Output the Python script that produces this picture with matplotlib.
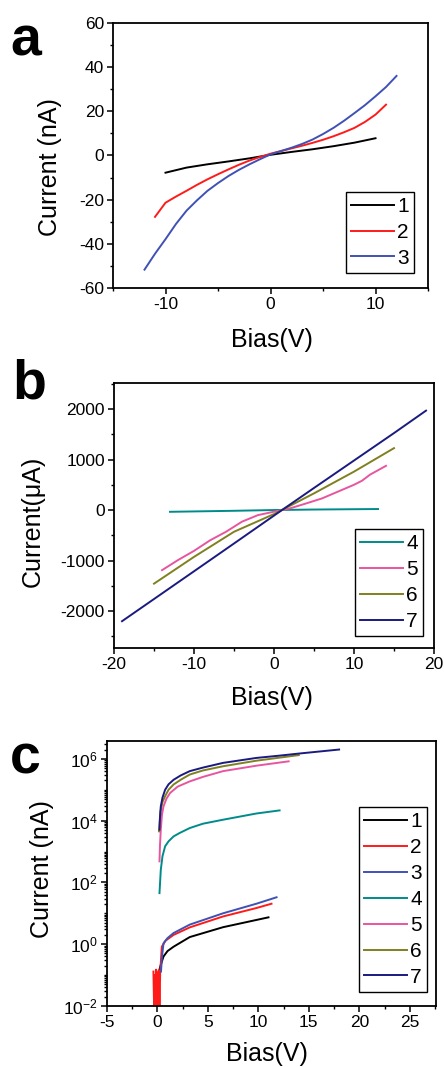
import matplotlib
matplotlib.use("Agg")
import matplotlib.pyplot as plt
from matplotlib.ticker import MultipleLocator, LogLocator, FixedLocator, NullFormatter

plt.rcParams['font.family'] = ['Liberation Sans', 'DejaVu Sans']
plt.rcParams['mathtext.fontset'] = 'custom'
plt.rcParams['mathtext.rm'] = 'Liberation Sans'
plt.rcParams['mathtext.it'] = 'Liberation Sans:italic'
plt.rcParams['axes.unicode_minus'] = False

# ---- panel a: current (nA) vs bias (V)
a1_x = [-10, -8, -6, -4, -2, 0, 2, 4, 6, 8, 10]
a1_y = [-7.8, -5.5, -4.0, -2.7, -1.3, 0.3, 1.6, 2.8, 4.2, 5.8, 7.8]
a2_x = [-11, -10, -9, -8, -7, -6, -5, -4, -3, -2, -1, 0, 1, 2, 3, 4, 5, 6, 7, 8, 9, 10, 11]
a2_y = [-27.8, -21.4, -18.6, -16.0, -13.3, -10.8, -8.5, -6.3, -4.2, -2.3, -0.7, 0.8,
        2.0, 3.2, 4.4, 5.7, 7.1, 8.7, 10.5, 12.5, 15.2, 18.5, 23.0]
a3_x = [-12, -11, -10, -9, -8, -7, -6, -5, -4, -3, -2, -1, 0, 1, 2, 3, 4, 5, 6, 7, 8, 9, 10, 11, 12]
a3_y = [-51.7, -44.5, -37.9, -31.0, -25.0, -20.3, -16.0, -12.5, -9.3, -6.5, -4.0, -1.7, 0.5,
        2.0, 3.5, 5.2, 7.2, 9.7, 12.5, 15.7, 19.2, 22.8, 26.8, 31.0, 36.0]

# ---- panel b: current (uA) vs bias (V)
b4_x = [-13, -5, 0, 5, 13]
b4_y = [-35, -15, 0, 10, 20]
b5_x = [-14, -12, -10, -8, -6, -4, -2, 0, 2, 4, 6, 8, 10, 11, 12, 14]
b5_y = [-1190, -990, -808, -600, -430, -230, -100, -33, 33, 130, 230, 365, 500, 580, 700, 875]
b6_x = [-15, -10, -5, 0, 5, 10, 15]
b6_y = [-1457, -927, -430, -80, 330, 760, 1225]
b7_x = [-19, -10, -5, 0, 1, 5, 10, 15, 19]
b7_y = [-2200, -1212, -662, -110, 0, 437, 980, 1523, 1967]

# ---- panel c: |current| (nA), log scale
c1_x = [0.1, 0.3, 0.6, 1.0, 1.6, 3.2, 6.5, 11]
c1_y = [0.115, 0.2, 0.4, 0.6, 0.83, 1.7, 3.55, 7.4]
c2_x = [-0.4, -0.33, -0.27, -0.2, -0.13, -0.07, 0.0, 0.07, 0.13, 0.2, 0.27, 0.35, 0.43,
        0.8, 1.6, 3.2, 6.5, 9.8, 11.3]
c2_y = [0.13, 0.008, 0.1, 0.008, 0.15, 0.009, 0.12, 0.008, 0.14, 0.01, 0.12, 0.32, 0.83,
        1.3, 2.0, 3.5, 7.9, 14.8, 20.4]
c3_x = [0.35, 0.45, 0.6, 1.0, 1.6, 3.2, 6.5, 9.8, 11.8]
c3_y = [0.13, 0.4, 1.07, 1.58, 2.3, 4.3, 10.0, 20.4, 33.0]
c4_x = [0.2, 0.33, 0.5, 0.76, 1.1, 1.6, 2.2, 3.2, 4.5, 6.5, 9.8, 12.1]
c4_y = [45, 257, 710, 1480, 2140, 3090, 3980, 5750, 7940, 10700, 17000, 21400]
c5_x = [0.2, 0.25, 0.33, 0.45, 0.6, 0.9, 1.26, 2.0, 3.2, 4.5, 6.5, 9.8, 13]
c5_y = [480, 1600, 5100, 16000, 29000, 52000, 79000, 1.26e5, 1.86e5, 2.6e5, 4.0e5, 6.0e5, 8.3e5]
c6_x = [0.15, 0.3, 0.5, 0.76, 1.1, 1.6, 2.3, 3.2, 4.5, 6.5, 9.8, 14]
c6_y = [4500, 20000, 40000, 62000, 1.0e5, 1.48e5, 2.1e5, 3.1e5, 4.2e5, 5.75e5, 8.7e5, 1.32e6]
c7_x = [0.2, 0.25, 0.33, 0.5, 0.76, 1.1, 1.6, 2.3, 3.2, 4.5, 6.5, 9.8, 12, 14, 18]
c7_y = [5100, 13000, 29000, 56000, 1.0e5, 1.5e5, 2.1e5, 2.9e5, 4.0e5, 5.2e5, 7.4e5,
        1.07e6, 1.26e6, 1.48e6, 2.0e6]

labels_a = ['1', '2', '3']
labels_b = ['4', '5', '6', '7']
labels_c = ['1', '2', '3', '4', '5', '6', '7']

colors = {'1': '#000000', '2': '#ff1a1a', '3': '#3f51b5', '4': '#008b8b',
          '5': '#e8559f', '6': '#808020', '7': '#1a1a80'}

tick_fs = 12.5
label_fs = 18
leg_fs = 15


def style(ax):
    for s in ax.spines.values():
        s.set_linewidth(1.3)
    ax.tick_params(which='major', direction='out', length=4.5, width=1.1,
                   labelsize=tick_fs, pad=2, top=False, right=False)
    ax.tick_params(which='minor', direction='out', length=2.5, width=1.0,
                   top=False, right=False)


def legend(ax, x1, y0):
    leg = ax.legend(loc='lower right', bbox_to_anchor=(x1, y0), fontsize=leg_fs,
                    frameon=True, fancybox=False, framealpha=1, edgecolor='black',
                    handlelength=2.05, handletextpad=0.15, borderpad=0.25,
                    labelspacing=0.33, borderaxespad=0)
    leg.get_frame().set_linewidth(1.0)


fig = plt.figure(figsize=(4.44, 10.67), dpi=100)

# panel a
ax = fig.add_axes([0.2545, 0.7301, 0.7095, 0.2484])
for lab, xs, ys in zip(labels_a, [a1_x, a2_x, a3_x], [a1_y, a2_y, a3_y]):
    ax.plot(xs, ys, color=colors[lab], lw=1.4, label=lab)
ax.set_xlim(-15, 15)
ax.set_ylim(-60, 60)
ax.xaxis.set_major_locator(MultipleLocator(10))
ax.xaxis.set_minor_locator(MultipleLocator(5))
ax.yaxis.set_major_locator(MultipleLocator(20))
ax.yaxis.set_minor_locator(MultipleLocator(10))
style(ax)
legend(ax, 0.956, 0.057)
fig.text(50 / 444, 1 - 167 / 1067, 'Current (nA)', rotation=90, ha='center', va='center', fontsize=label_fs)
fig.text(272 / 444, 1 - 340 / 1067, 'Bias(V)', ha='center', va='center', fontsize=label_fs)
fig.text(10 / 444, 1 - 16 / 1067, 'a', ha='left', va='top', fontsize=40, fontweight='bold')

# panel b
ax = fig.add_axes([0.2568, 0.3927, 0.7207, 0.2484])
for lab, xs, ys in zip(labels_b, [b4_x, b5_x, b6_x, b7_x], [b4_y, b5_y, b6_y, b7_y]):
    ax.plot(xs, ys, color=colors[lab], lw=1.4, label=lab)
ax.set_xlim(-20, 20)
ax.set_ylim(-2730, 2515)
ax.xaxis.set_major_locator(MultipleLocator(10))
ax.xaxis.set_minor_locator(MultipleLocator(5))
ax.yaxis.set_major_locator(MultipleLocator(1000))
ax.yaxis.set_minor_locator(MultipleLocator(500))
style(ax)
legend(ax, 0.966, 0.045)
fig.text(33 / 444, 1 - 521 / 1067, 'Current(\u03bcA)', rotation=90, ha='center', va='center', fontsize=label_fs)
fig.text(272 / 444, 1 - 698 / 1067, 'Bias(V)', ha='center', va='center', fontsize=label_fs)
fig.text(12 / 444, 1 - 358 / 1067, 'b', ha='left', va='top', fontsize=40, fontweight='bold')

# panel c
ax = fig.add_axes([0.241, 0.0572, 0.741, 0.2484])
cx = [c1_x, c2_x, c3_x, c4_x, c5_x, c6_x, c7_x]
cy = [c1_y, c2_y, c3_y, c4_y, c5_y, c6_y, c7_y]
for lab, xs, ys in zip(labels_c, cx, cy):
    ax.plot(xs, ys, color=colors[lab], lw=1.4, label=lab)
ax.set_yscale('log')
ax.set_xlim(-5, 27.6)
ax.set_ylim(1e-2, 3.8e6)
ax.xaxis.set_major_locator(MultipleLocator(5))
ax.xaxis.set_minor_locator(MultipleLocator(2.5))
ax.yaxis.set_major_locator(FixedLocator([1e-2, 1e0, 1e2, 1e4, 1e6]))
ax.yaxis.set_minor_locator(LogLocator(base=10, subs=[1, 2, 3, 4, 5, 6, 7, 8, 9], numticks=20))
ax.yaxis.set_minor_formatter(NullFormatter())
style(ax)
legend(ax, 0.973, 0.053)
fig.text(42 / 444, 1 - 869 / 1067, 'Current (nA)', rotation=90, ha='center', va='center', fontsize=label_fs)
fig.text(267 / 444, 1 - 1054 / 1067, 'Bias(V)', ha='center', va='center', fontsize=label_fs)
fig.text(10 / 444, 1 - 733 / 1067, 'c', ha='left', va='top', fontsize=40, fontweight='bold')

fig.savefig('out.png', dpi=100)
